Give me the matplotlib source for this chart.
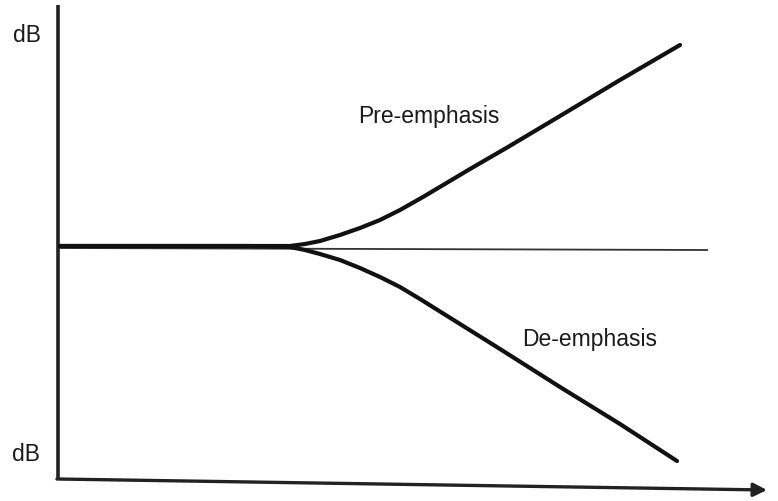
import matplotlib
matplotlib.use('Agg')
import matplotlib.pyplot as plt

# level readings (dB, relative to the flat part) against frequency position
freq_pre = [60, 150, 250, 290, 305, 320, 340, 360, 380, 400, 423, 470, 508, 560, 620, 680]
level_pre = [1, 1, 1, 1, 3, 6, 12, 19, 27, 37, 50, 78, 100, 131, 167, 202]

freq_de = [60, 150, 250, 290, 305, 320, 340, 360, 380, 400, 420, 460, 500, 560, 620, 677]
level_de = [1, 1, 1, 0, -3, -7, -13, -21, -30, -40, -52, -77, -102, -140, -177, -214]

labels = ['Pre-emphasis', 'De-emphasis']
axis_label = 'dB'

plt.rcParams['font.family'] = ['Liberation Sans', 'DejaVu Sans']

fig = plt.figure(figsize=(7.78, 5.02), dpi=100)
ax = fig.add_axes([0, 0, 1, 1])
ax.set_xlim(0, 778)
ax.set_ylim(-254, 248)
ax.axis('off')

# axes drawn by hand, like the scanned sketch
ax.plot([58, 58], [242, -232], color='#222222', lw=2.6, solid_capstyle='butt')
ax.annotate('', xy=(767, -243), xytext=(57, -232),
            arrowprops=dict(arrowstyle='-|>', color='#222222', lw=2.4,
                            mutation_scale=20, shrinkA=0, shrinkB=0))

# 0 dB reference line
ax.plot([60, 707], [-1, -3], color='#333333', lw=1.3)

ax.plot(freq_pre, level_pre, color='#111111', lw=3.0, solid_capstyle='round')
ax.plot(freq_de, level_de, color='#111111', lw=3.0, solid_capstyle='round')

ax.text(358, 131, labels[0], fontsize=16.5, color='#1a1a1a', va='center')
ax.text(522, -92, labels[1], fontsize=16.5, color='#1a1a1a', va='center')
ax.text(13, 213, axis_label, fontsize=16.5, color='#1a1a1a', va='center')
ax.text(12, -207, axis_label, fontsize=16.5, color='#1a1a1a', va='center')

fig.savefig('out.png', dpi=100)
